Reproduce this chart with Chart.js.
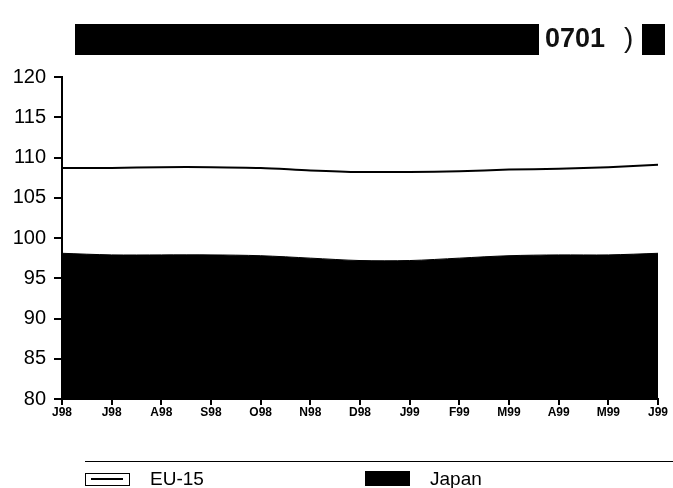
<!DOCTYPE html>
<html><head><meta charset="utf-8">
<script src="https://cdn.jsdelivr.net/npm/chart.js@4"></script>
<style>
html,body{margin:0;padding:0;background:#fff;width:673px;height:488px;overflow:hidden;font-family:"Liberation Sans",Arial,sans-serif;}
#wrap{position:absolute;left:0;top:0;width:673px;height:488px;}
.abs{position:absolute;}
</style></head><body>
<div id="wrap"><canvas id="c" width="673" height="488"></canvas></div>
<div class="abs" style="left:75px;top:24px;width:464px;height:31px;background:#000;"></div>
<div class="abs" style="left:545px;top:23px;font-weight:bold;font-size:27px;color:#111;">0701</div>
<div class="abs" style="left:624px;top:22px;font-size:28px;color:#111;">)</div>
<div class="abs" style="left:642px;top:24px;width:23px;height:31px;background:#000;"></div>
<div class="abs" style="left:85px;top:461px;width:588px;height:1px;background:#000;"></div>
<div class="abs" style="left:85px;top:473px;width:43px;height:11px;border:1.5px solid #000;"></div>
<div class="abs" style="left:91px;top:478px;width:32px;height:2px;background:#000;"></div>
<div class="abs" style="left:150px;top:468px;font-size:19px;color:#000;">EU-15</div>
<div class="abs" style="left:365px;top:471px;width:45px;height:15px;background:#000;"></div>
<div class="abs" style="left:430px;top:468px;font-size:19px;color:#000;">Japan</div>
<script>
const labels = ['J98','J98','A98','S98','O98','N98','D98','J99','F99','M99','A99','M99','J99'];
const eu15 = [108.7,108.7,108.8,108.8,108.7,108.4,108.2,108.2,108.3,108.5,108.6,108.8,109.1];
const japan = [98.1,97.9,97.9,97.9,97.8,97.5,97.2,97.2,97.5,97.8,97.9,97.9,98.1];
const yMin = 80, yMax = 120, yStep = 5;

new Chart(document.getElementById('c'), {
  type: 'line',
  data: {
    labels: labels,
    datasets: [
      {label:'Japan', data: japan, borderColor:'#000', backgroundColor:'#000', borderWidth:1, fill:'start', pointRadius:0, tension:0.3},
      {label:'EU-15', data: eu15, borderColor:'#000', borderWidth:2, fill:false, pointRadius:0, tension:0.3}
    ]
  },
  options: {
    responsive:false, animation:false,
    layout:{padding:{top:77, right:15, bottom:59, left:0}},
    plugins:{legend:{display:false}, tooltip:{enabled:false}},
    scales:{
      x:{
        offset:false,
        grid:{drawOnChartArea:false, drawTicks:true, tickLength:6, color:'#000', lineWidth:2},
        border:{display:true, color:'#000', width:2},
        ticks:{color:'#000', font:{family:'"Liberation Sans", Arial', size:12, weight:'bold'}, padding:0, maxRotation:0, autoSkip:false},
        afterFit(s){ s.height = 30; }
      },
      y:{
        min:yMin, max:yMax,
        grid:{drawOnChartArea:false, drawTicks:true, tickLength:8, color:'#000', lineWidth:2},
        border:{display:true, color:'#000', width:2},
        ticks:{stepSize:yStep, color:'#000', font:{family:'"Liberation Sans", Arial', size:20}, padding:8},
        afterFit(s){ s.width = 62; }
      }
    }
  }
});
</script>
</body></html>
